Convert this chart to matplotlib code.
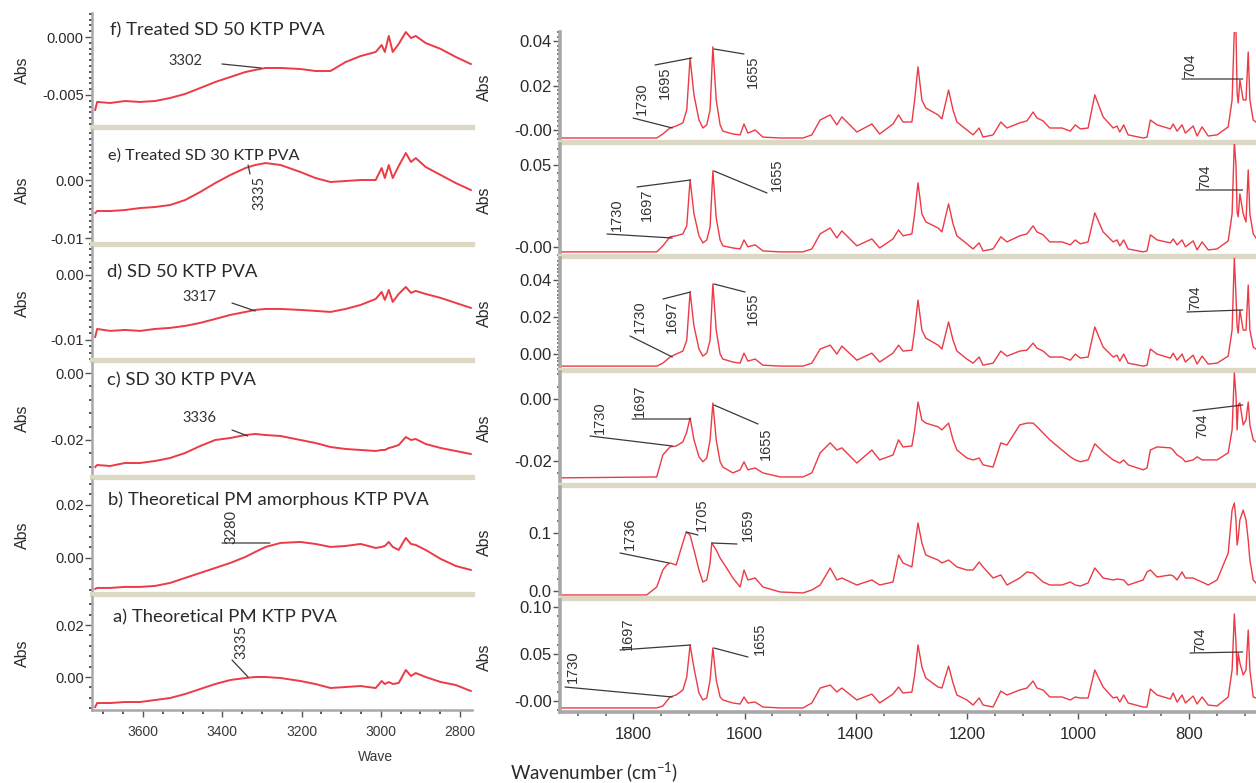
import matplotlib
matplotlib.use("Agg")
import matplotlib.pyplot as plt
from matplotlib.ticker import MultipleLocator

plt.rcParams['font.family'] = ['Liberation Sans', 'DejaVu Sans']
plt.rcParams['mathtext.fontset'] = 'custom'
plt.rcParams['mathtext.rm'] = 'Lato'
plt.rcParams['mathtext.it'] = 'Lato:italic'

# ---- O-H stretching region, 3730-2770 cm-1 (left column) ----
oh_wavenumber = [3721, 3716, 3683, 3646, 3608, 3570, 3532, 3494, 3456, 3418,
                 3380, 3342, 3317, 3291, 3253, 3203, 3165, 3127, 3089, 3051,
                 3013, 2998, 2990, 2980, 2970, 2955, 2937, 2924, 2912, 2887,
                 2849, 2811, 2773]

oh_a = [-0.01155, -0.01001, -0.01001, -0.00963, -0.00963, -0.00886, -0.00809, -0.00655, -0.00462, -0.00270,
        -0.00116, -0.00039, 0.0, 0.0, -0.00039, -0.00154, -0.00270, -0.00424, -0.00385, -0.00347,
        -0.00424, -0.00154, -0.00270, -0.00193, -0.00270, -0.00231, 0.00270, 0.00039, 0.00154, 0.0,
        -0.00193, -0.00308, -0.00539]
oh_b = [-0.01169, -0.01131, -0.01131, -0.01093, -0.01093, -0.01056, -0.00943, -0.00754, -0.00566, -0.00377,
        -0.00189, 0.00038, 0.00226, 0.00415, 0.00566, 0.00603, 0.00528, 0.00415, 0.00452, 0.00528,
        0.00377, 0.00415, 0.00452, 0.00603, 0.00415, 0.00302, 0.00754, 0.00528, 0.00490, 0.00302,
        -0.00038, -0.00302, -0.00452]
oh_c = [-0.02811, -0.02751, -0.02781, -0.02691, -0.02691, -0.02631, -0.02542, -0.02392, -0.02183, -0.02003,
        -0.01944, -0.01854, -0.01824, -0.01854, -0.01884, -0.02003, -0.02093, -0.02213, -0.02272, -0.02302,
        -0.02332, -0.02302, -0.02302, -0.02243, -0.02213, -0.02153, -0.01914, -0.02003, -0.01973, -0.02123,
        -0.02243, -0.02332, -0.02422]
oh_d = [-0.00955, -0.00832, -0.00862, -0.00847, -0.00862, -0.00832, -0.00816, -0.00785, -0.00739, -0.00678,
        -0.00616, -0.00570, -0.00539, -0.00524, -0.00524, -0.00539, -0.00554, -0.00570, -0.00524, -0.00462,
        -0.00370, -0.00262, -0.00385, -0.00231, -0.00416, -0.00293, -0.00185, -0.00277, -0.00246, -0.00293,
        -0.00354, -0.00431, -0.00508]
oh_e = [-0.00568, -0.00533, -0.00533, -0.00516, -0.00482, -0.00464, -0.00430, -0.00344, -0.00206, -0.00052,
        0.00086, 0.00206, 0.00258, 0.00292, 0.00258, 0.00138, 0.00034, -0.00034, -0.00017, 0.0,
        0.0, 0.00206, 0.00034, 0.00258, 0.00034, 0.00241, 0.00464, 0.00310, 0.00378, 0.00224,
        0.00086, -0.00052, -0.00172]
oh_f = [-0.00629, -0.00560, -0.00569, -0.00552, -0.00560, -0.00552, -0.00526, -0.00491, -0.00440, -0.00388,
        -0.00345, -0.00302, -0.00284, -0.00267, -0.00267, -0.00276, -0.00293, -0.00293, -0.00216, -0.00164,
        -0.00129, -0.00069, -0.00129, 0.00009, -0.00129, -0.00060, 0.00043, -0.00009, 0.00009, -0.00052,
        -0.00103, -0.00172, -0.00233]

# ---- carbonyl / fingerprint region, 1930-680 cm-1 (right column) ----
fp_wavenumber = [1932, 1758, 1747, 1734, 1723, 1711, 1704, 1698, 1691, 1682,
                 1675, 1668, 1662, 1657, 1651, 1644, 1639, 1621, 1608, 1601,
                 1594, 1581, 1567, 1536, 1495, 1479, 1464, 1446, 1434, 1425,
                 1398, 1371, 1357, 1333, 1323, 1315, 1299, 1294, 1288, 1281,
                 1274, 1252, 1245, 1233, 1225, 1218, 1200, 1189, 1178, 1171,
                 1153, 1139, 1128, 1105, 1092, 1081, 1074, 1063, 1051, 1029,
                 1014, 1005, 996, 982, 970, 955, 937, 930, 925, 918,
                 910, 883, 876, 870, 858, 834, 829, 822, 813, 807,
                 793, 786, 777, 766, 750, 730, 723, 719, 716, 714,
                 712, 709, 703, 698, 694, 691, 685, 680]

fp_a = [-0.0074, -0.0074, -0.0053, 0.0043, 0.0064, 0.0117, 0.0255, 0.0596, 0.0351, 0.0085,
        0.0011, 0.0032, 0.0223, 0.0564, 0.0223, 0.0043, 0.0011, -0.0021, -0.0032, 0.0043,
        -0.0021, -0.0011, -0.0064, -0.0074, -0.0074, -0.0021, 0.0138, 0.0170, 0.0096, 0.0138,
        0.0011, 0.0074, -0.0021, 0.0074, 0.0149, 0.0085, 0.0096, 0.0277, 0.0596, 0.0362,
        0.0245, 0.0149, 0.0138, 0.0372, 0.0192, 0.0064, 0.0011, -0.0043, 0.0032, -0.0043,
        -0.0064, 0.0106, 0.0064, 0.0117, 0.0138, 0.0213, 0.0138, 0.0117, 0.0043, 0.0043,
        0.0011, 0.0043, 0.0032, 0.0032, 0.0330, 0.0149, 0.0032, 0.0043, -0.0011, 0.0064,
        -0.0021, -0.0064, -0.0064, 0.0128, 0.0064, 0.0021, 0.0085, -0.0011, 0.0064, -0.0021,
        0.0053, -0.0032, 0.0043, -0.0043, -0.0053, 0.0043, 0.0330, 0.0926, 0.0617, 0.0277,
        0.0511, 0.0404, 0.0277, 0.0330, 0.0755, 0.0330, 0.0043, 0.0032]
fp_c = [-0.0255, -0.0252, -0.0181, -0.0155, -0.0152, -0.0139, -0.0107, -0.0061, -0.0132, -0.0187,
        -0.0203, -0.0191, -0.0132, -0.0013, -0.0132, -0.0203, -0.0220, -0.0239, -0.0229, -0.0203,
        -0.0229, -0.0223, -0.0239, -0.0252, -0.0252, -0.0239, -0.0174, -0.0142, -0.0165, -0.0158,
        -0.0207, -0.0165, -0.0197, -0.0181, -0.0132, -0.0155, -0.0152, -0.0100, -0.0010, -0.0068,
        -0.0078, -0.0090, -0.0100, -0.0078, -0.0132, -0.0165, -0.0191, -0.0197, -0.0191, -0.0213,
        -0.0220, -0.0142, -0.0149, -0.0084, -0.0078, -0.0078, -0.0090, -0.0110, -0.0132, -0.0165,
        -0.0187, -0.0197, -0.0203, -0.0197, -0.0145, -0.0171, -0.0197, -0.0203, -0.0207, -0.0197,
        -0.0213, -0.0229, -0.0223, -0.0165, -0.0155, -0.0158, -0.0165, -0.0181, -0.0191, -0.0203,
        -0.0197, -0.0187, -0.0197, -0.0197, -0.0197, -0.0174, -0.0100, 0.0084, 0.0013, -0.0100,
        -0.0019, -0.0013, -0.0084, -0.0068, -0.0010, -0.0084, -0.0132, -0.0139]
fp_d = [-0.0065, -0.0065, -0.0049, -0.0016, 0.0000, 0.0016, 0.0075, 0.0335, 0.0151, 0.0027,
        -0.0011, 0.0005, 0.0075, 0.0378, 0.0129, 0.0000, -0.0027, -0.0043, -0.0049, 0.0005,
        -0.0038, -0.0027, -0.0060, -0.0065, -0.0065, -0.0049, 0.0027, 0.0048, 0.0000, 0.0043,
        -0.0033, 0.0005, -0.0043, 0.0005, 0.0048, 0.0016, 0.0021, 0.0129, 0.0291, 0.0129,
        0.0086, 0.0048, 0.0027, 0.0173, 0.0075, 0.0016, -0.0027, -0.0049, -0.0016, -0.0060,
        -0.0049, 0.0016, -0.0011, 0.0016, 0.0021, 0.0059, 0.0032, 0.0016, -0.0016, -0.0016,
        -0.0033, 0.0000, -0.0022, -0.0016, 0.0146, 0.0038, -0.0016, -0.0006, -0.0038, 0.0000,
        -0.0049, -0.0065, -0.0060, 0.0027, 0.0000, -0.0022, 0.0005, -0.0033, 0.0000, -0.0043,
        -0.0006, -0.0054, -0.0011, -0.0054, -0.0049, -0.0011, 0.0129, 0.0518, 0.0313, 0.0151,
        0.0113, 0.0237, 0.0129, 0.0129, 0.0372, 0.0129, 0.0038, 0.0027]
fp_e = [-0.0030, -0.0030, 0.0007, 0.0062, 0.0068, 0.0080, 0.0129, 0.0409, 0.0202, 0.0068,
        0.0025, 0.0043, 0.0123, 0.0464, 0.0177, 0.0043, 0.0007, -0.0006, -0.0012, 0.0043,
        0.0001, 0.0013, -0.0024, -0.0030, -0.0030, -0.0012, 0.0080, 0.0116, 0.0055, 0.0098,
        0.0007, 0.0049, -0.0006, 0.0049, 0.0104, 0.0068, 0.0080, 0.0202, 0.0391, 0.0202,
        0.0153, 0.0116, 0.0092, 0.0263, 0.0141, 0.0068, 0.0019, -0.0012, 0.0025, -0.0024,
        -0.0012, 0.0062, 0.0031, 0.0068, 0.0080, 0.0129, 0.0092, 0.0074, 0.0031, 0.0031,
        0.0013, 0.0043, 0.0019, 0.0031, 0.0208, 0.0092, 0.0031, 0.0043, 0.0007, 0.0043,
        -0.0012, -0.0030, -0.0024, 0.0074, 0.0043, 0.0025, 0.0049, 0.0013, 0.0043, 0.0001,
        0.0037, -0.0018, 0.0031, -0.0018, -0.0012, 0.0037, 0.0202, 0.0641, 0.0500, 0.0214,
        0.0184, 0.0324, 0.0202, 0.0153, 0.0470, 0.0202, 0.0080, 0.0055]
fp_f = [-0.0036, -0.0036, -0.0018, 0.0009, 0.0018, 0.0032, 0.0090, 0.0324, 0.0158, 0.0045,
        0.0009, 0.0023, 0.0090, 0.0374, 0.0135, 0.0023, -0.0005, -0.0018, -0.0022, 0.0027,
        -0.0014, 0.0000, -0.0032, -0.0036, -0.0036, -0.0022, 0.0045, 0.0068, 0.0023, 0.0059,
        -0.0009, 0.0027, -0.0018, 0.0027, 0.0068, 0.0036, 0.0036, 0.0135, 0.0284, 0.0135,
        0.0099, 0.0068, 0.0050, 0.0180, 0.0090, 0.0036, 0.0000, -0.0022, 0.0009, -0.0032,
        -0.0022, 0.0036, 0.0009, 0.0032, 0.0041, 0.0081, 0.0054, 0.0041, 0.0009, 0.0009,
        -0.0005, 0.0023, 0.0005, 0.0009, 0.0158, 0.0059, 0.0009, 0.0018, -0.0009, 0.0023,
        -0.0022, -0.0036, -0.0032, 0.0045, 0.0023, 0.0005, 0.0027, -0.0005, 0.0023, -0.0014,
        0.0018, -0.0027, 0.0014, -0.0027, -0.0022, 0.0014, 0.0135, 0.0450, 0.0450, 0.0167,
        0.0122, 0.0225, 0.0135, 0.0135, 0.0351, 0.0135, 0.0045, 0.0036]

# amorphous physical mixture has its own sampling
fp_b_wavenumber = [1932, 1776, 1758, 1747, 1740, 1734, 1723, 1715, 1705, 1698,
                   1691, 1682, 1675, 1668, 1662, 1659, 1651, 1644, 1630, 1621,
                   1608, 1601, 1594, 1581, 1567, 1536, 1495, 1479, 1464, 1446,
                   1434, 1425, 1398, 1371, 1357, 1333, 1323, 1315, 1299, 1288,
                   1281, 1274, 1252, 1245, 1233, 1218, 1200, 1189, 1178, 1171,
                   1153, 1139, 1128, 1105, 1092, 1081, 1063, 1051, 1029, 1014,
                   1005, 996, 982, 970, 955, 937, 930, 918, 910, 883,
                   876, 870, 858, 834, 829, 822, 813, 807, 793, 786,
                   777, 766, 750, 730, 723, 719, 716, 714, 712, 709,
                   703, 698, 694, 691, 685, 680]
fp_b = [-0.0069, -0.0069, 0.0069, 0.0362, 0.0448, 0.0483, 0.0448, 0.0707, 0.1017, 0.0965,
        0.0707, 0.0362, 0.0155, 0.0190, 0.0483, 0.0828, 0.0707, 0.0569, 0.0362, 0.0224,
        0.0069, 0.0362, 0.0190, 0.0224, 0.0069, -0.0017, -0.0034, 0.0017, 0.0103, 0.0397,
        0.0190, 0.0224, 0.0103, 0.0190, 0.0103, 0.0155, 0.0621, 0.0483, 0.0414, 0.1172,
        0.0828, 0.0621, 0.0534, 0.0483, 0.0534, 0.0414, 0.0362, 0.0362, 0.0500, 0.0414,
        0.0224, 0.0276, 0.0103, 0.0224, 0.0328, 0.0310, 0.0155, 0.0103, 0.0103, 0.0155,
        0.0103, 0.0086, 0.0138, 0.0397, 0.0224, 0.0190, 0.0207, 0.0190, 0.0103, 0.0190,
        0.0328, 0.0362, 0.0241, 0.0276, 0.0259, 0.0190, 0.0328, 0.0224, 0.0224, 0.0190,
        0.0155, 0.0103, 0.0190, 0.0655, 0.1396, 0.1517, 0.1224, 0.0793, 0.0914, 0.1224,
        0.1396, 0.1224, 0.0879, 0.0534, 0.0190, 0.0138]

sample_titles = {
    'f': 'f) Treated SD 50 KTP PVA',
    'e': 'e) Treated SD 30 KTP PVA',
    'd': 'd) SD 50 KTP PVA',
    'c': 'c) SD 30 KTP PVA',
    'b': 'b) Theoretical PM amorphous KTP PVA',
    'a': 'a) Theoretical PM KTP PVA',
}

W, H = 1256, 783
fig = plt.figure(figsize=(W / 100, H / 100), dpi=100)
fig.patch.set_facecolor('white')

RED = '#ec3a46'
BAND = '#ddd8c4'
GREY = '#a8a8a8'
INK = '#2a2a2a'


def panel(x0, x1, y0, y1, xlim, ylim, spine_w, bottom):
    ax = fig.add_axes([x0 / W, 1 - y1 / H, (x1 - x0) / W, (y1 - y0) / H])
    ax.set_xlim(*xlim)
    ax.set_ylim(*ylim)
    ax.patch.set_visible(False)
    ax.spines['top'].set_visible(False)
    ax.spines['right'].set_visible(False)
    ax.spines['left'].set_color(GREY)
    ax.spines['left'].set_linewidth(spine_w)
    if bottom:
        ax.spines['bottom'].set_color(GREY)
        ax.spines['bottom'].set_linewidth(spine_w)
    else:
        ax.spines['bottom'].set_color(BAND)
        ax.spines['bottom'].set_linewidth(3.8)
        ax.tick_params(axis='x', bottom=False, labelbottom=False)
    return ax


def to_data(ax, px, py):
    return ax.transData.inverted().transform((px, H - py))


def note(ax, label, peak_py, start, text_at, rot, size, family='Liberation Sans'):
    peak_y = to_data(ax, 0, peak_py)[1]
    sx, sy = to_data(ax, *start)
    tx, ty = to_data(ax, *text_at)
    ax.annotate('', xy=(float(label), peak_y), xytext=(sx, sy),
                arrowprops=dict(arrowstyle='-', color='#3a3a3a', lw=0.9,
                                shrinkA=0, shrinkB=0))
    ax.text(tx, ty, label, rotation=rot, ha='center', va='center',
            fontsize=size, color='#333333', family=family, clip_on=False)


# ---------------- left column ----------------
left_rows = [
    # key, data, top, bottom, ylim, ticks, labels, minor step, title y, title size, Abs y
    ('f', oh_f, 13, 127, (-0.00776, 0.00207), [0.0, -0.005], ['0.000', '-0.005'], 0.0005, 30, 13.3, 70),
    ('e', oh_e, 130, 244, (-0.0110, 0.0086), [0.0, -0.01], ['0.00', '-0.01'], 0.001, 156, 11.7, 190),
    ('d', oh_d, 247, 360, (-0.0131, 0.0043), [0.0, -0.01], ['0.00', '-0.01'], 0.001, 272, 13.3, 303),
    ('c', oh_c, 363, 477, (-0.0311, 0.0030), [0.0, -0.02], ['0.00', '-0.02'], 0.004, 380, 13.3, 418),
    ('b', oh_b, 480, 594, (-0.0136, 0.0294), [0.02, 0.0], ['0.02', '0.00'], 0.004, 500, 13.3, 535),
    ('a', oh_a, 597, 710, (-0.0127, 0.0308), [0.02, 0.0], ['0.02', '0.00'], 0.004, 617, 13.3, 653),
]
title_x = {'f': 110, 'e': 108, 'd': 107, 'c': 107, 'b': 108, 'a': 113}
left_axes = {}
for key, ys, top, bot, ylim, ticks, labels, minor, ty, tsize, abs_y in left_rows:
    ax = panel(92, 472, top, bot, (3729, 2770), ylim, 1.8, key == 'a')
    ax.plot(oh_wavenumber, ys, color=RED, lw=1.4)
    ax.set_yticks(ticks, labels)
    ax.yaxis.set_minor_locator(MultipleLocator(minor))
    ax.tick_params(axis='y', which='major', length=5, width=1, color='#555555',
                   labelsize=10.5, labelcolor=INK, pad=1)
    ax.tick_params(axis='y', which='minor', length=2.2, width=1.4, color='#555555')
    fig.text(title_x[key] / W, 1 - ty / H, sample_titles[key], family='Lato',
             fontsize=tsize, color=INK, ha='left', va='center')
    fig.text(22 / W, 1 - abs_y / H, 'Abs', rotation=90, ha='center', va='center',
             fontsize=11.5, color=INK)
    left_axes[key] = ax

ax = left_axes['a']
ax.set_xticks([3600, 3400, 3200, 3000, 2800])
ax.xaxis.set_minor_locator(MultipleLocator(50))
ax.tick_params(axis='x', which='major', length=5, width=1, color='#555555',
               labelsize=10, labelcolor='#3a3a3a', pad=6)
ax.tick_params(axis='x', which='minor', length=3, width=1.4, color='#555555')

note(left_axes['f'], '3302', 68, (222, 64), (185, 61), 0, 10.5, 'Lato')
note(left_axes['e'], '3335', 165, (250, 174), (259, 193), 90, 10.5, 'Lato')
note(left_axes['d'], '3317', 311, (232, 303), (199, 297), 0, 10.5, 'Lato')
note(left_axes['c'], '3336', 436, (232, 430), (199, 418), 0, 10.5, 'Lato')
note(left_axes['b'], '3280', 543, (222, 543), (231, 527), 90, 10.5, 'Lato')
note(left_axes['a'], '3335', 677, (232, 660), (241, 642), 90, 10.5, 'Lato')

fig.text(375 / W, 1 - 757 / H, 'Wave', ha='center', va='center', fontsize=10,
         color='#3a3a3a')

# ---------------- right column ----------------
right_rows = [
    ('f', fp_wavenumber, fp_f, 32, 142, (-0.0054, 0.0441), [0.04, 0.02, 0.0], ['0.04', '0.02', '-0.00'], 0.002, 87),
    ('e', fp_wavenumber, fp_e, 144, 256, (-0.0055, 0.0628), [0.05, 0.0], ['0.05', '-0.00'], 0.005, 200),
    ('d', fp_wavenumber, fp_d, 258, 370, (-0.0086, 0.0518), [0.04, 0.02, 0.0], ['0.04', '0.02', '0.00'], 0.002, 313),
    ('c', fp_wavenumber, fp_c, 372, 485, (-0.0278, 0.0087), [0.0, -0.02], ['0.00', '-0.02'], 0.004, 428),
    ('b', fp_b_wavenumber, fp_b, 487, 598, (-0.0121, 0.1793), [0.1, 0.0], ['0.1', '0.0'], 0.02, 542),
    ('a', fp_wavenumber, fp_a, 600, 712, (-0.0117, 0.1075), [0.10, 0.05, 0.0], ['0.10', '0.05', '-0.00'], 0.01, 657),
]
right_axes = {}
for key, xs, ys, top, bot, ylim, ticks, labels, minor, abs_y in right_rows:
    ax = panel(560, 1256, top, bot, (1932, 680), ylim, 2.6, key == 'a')
    ax.plot(xs, ys, color=RED, lw=1.0)
    ax.set_yticks(ticks, labels)
    ax.yaxis.set_minor_locator(MultipleLocator(minor))
    ax.tick_params(axis='y', which='major', length=5, width=1, color='#555555',
                   labelsize=12, labelcolor=INK, pad=1)
    ax.tick_params(axis='y', which='minor', length=2.2, width=1.2, color='#666666')
    fig.text(484 / W, 1 - abs_y / H, 'Abs', rotation=90, ha='center', va='center',
             fontsize=11.5, color=INK)
    right_axes[key] = ax

ax = right_axes['a']
ax.set_xticks([1800, 1600, 1400, 1200, 1000, 800])
ax.xaxis.set_minor_locator(MultipleLocator(50))
ax.tick_params(axis='x', which='major', length=5, width=1, color='#555555',
               labelsize=12, labelcolor=INK, pad=6)
ax.tick_params(axis='x', which='minor', length=3, width=1.2, color='#666666')

# peak labels: label, peak y (px), leader start (px), text centre (px), rotation
right_notes = {
    'f': [('1730', 128, (633, 118), (642, 99), 90),
          ('1695', 58, (655, 65), (665, 83), 90),
          ('1655', 49, (744, 54), (753, 72), 90),
          ('704', 79, (1182, 79), (1190, 66), 90)],
    'e': [('1730', 238, (607, 234), (617, 215), 90),
          ('1697', 180, (637, 187), (647, 205), 90),
          ('1655', 171, (767, 193), (777, 175), 90),
          ('704', 190, (1196, 190), (1205, 177), 90)],
    'd': [('1730', 357, (630, 336), (640, 317), 90),
          ('1697', 292, (663, 299), (672, 317), 90),
          ('1655', 284, (745, 292), (753, 309), 90),
          ('704', 310, (1187, 312), (1195, 298), 90)],
    'c': [('1730', 446, (590, 436), (600, 418), 90),
          ('1697', 419, (632, 419), (640, 401), 90),
          ('1655', 405, (758, 424), (766, 444), 90),
          ('704', 405, (1193, 411), (1202, 426), 90)],
    'b': [('1736', 563, (620, 553), (630, 534), 90),
          ('1705', 532, (698, 535), (702, 515), 90),
          ('1659', 543, (737, 544), (748, 525), 90)],
    'a': [('1730', 697, (565, 687), (573, 667), 90),
          ('1697', 645, (620, 650), (628, 634), 90),
          ('1655', 648, (748, 657), (760, 639), 90),
          ('704', 652, (1190, 653), (1200, 640), 90)],
}
for key, notes in right_notes.items():
    for label, peak_py, start, text_at, rot in notes:
        note(right_axes[key], label, peak_py, start, text_at, rot, 10.5)

fig.text(510 / W, 1 - 772 / H, 'Wavenumber (cm$^{-1}$)', family='Lato',
         fontsize=13.5, color=INK, ha='left', va='center')

fig.savefig('out.png', dpi=100)
